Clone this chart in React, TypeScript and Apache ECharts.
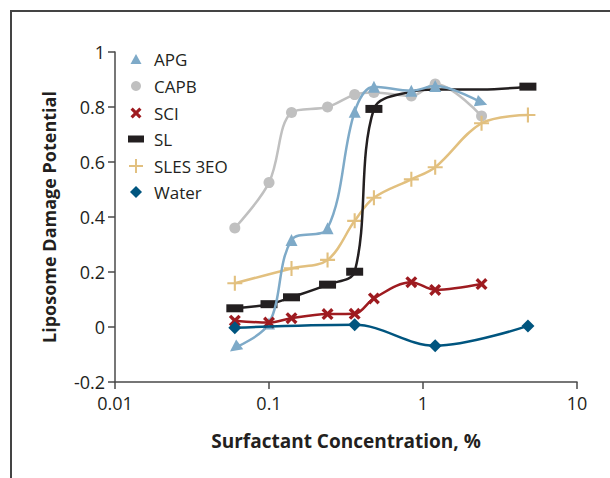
import React, { useEffect, useRef } from "react";
import * as echarts from "echarts";

const concAPG = [0.06, 0.1, 0.14, 0.24, 0.36, 0.48, 0.84, 1.2, 2.4];
const valAPG = [-0.076, 0.013, 0.316, 0.359, 0.783, 0.874, 0.859, 0.876, 0.816];

const concCAPB = [0.06, 0.1, 0.14, 0.24, 0.36, 0.48, 0.84, 1.2, 2.4];
const valCAPB = [0.36, 0.525, 0.78, 0.8, 0.845, 0.853, 0.84, 0.884, 0.767];

const concSCI = [0.06, 0.1, 0.14, 0.24, 0.36, 0.48, 0.84, 1.2, 2.4];
const valSCI = [0.023, 0.016, 0.032, 0.047, 0.048, 0.104, 0.163, 0.135, 0.156];

const concSL = [0.06, 0.1, 0.14, 0.24, 0.36, 0.48, 0.84, 1.2, 2.4, 4.8];
const valSL = [0.068, 0.083, 0.108, 0.154, 0.201, 0.793, 0.856, 0.864, 0.864, 0.874];
const markerSL = [true, true, true, true, true, true, false, false, false, true];

const concSLES = [0.06, 0.14, 0.24, 0.36, 0.48, 0.84, 1.2, 2.4, 4.8];
const valSLES = [0.159, 0.213, 0.244, 0.386, 0.47, 0.537, 0.581, 0.741, 0.771];

const concWater = [0.06, 0.36, 1.2, 4.8];
const valWater = [-0.003, 0.008, -0.068, 0.004];

const xTicks = [0.01, 0.1, 1, 10];
const yTicks = [-0.2, 0, 0.2, 0.4, 0.6, 0.8, 1];

const FONT = "'Open Sans', 'Noto Sans', sans-serif";
const TXT = "#231f20";

const CROSS = "path://M0,2 L2,0 L5,3 L8,0 L10,2 L7,5 L10,8 L8,10 L5,7 L2,10 L0,8 L3,5 Z";
const PLUS = "path://M4.3,0 H5.7 V4.3 H10 V5.7 H5.7 V10 H4.3 V5.7 H0 V4.3 H4.3 Z";

const zip = (xs: number[], ys: number[]) => xs.map((x, i) => [x, ys[i]]);

export default function App() {
  const ref = useRef<HTMLDivElement>(null);
  useEffect(() => {
    if (!ref.current) return;
    const chart = echarts.init(ref.current, null, { renderer: "svg" });

    const apgData = zip(concAPG, valAPG).map((v, i, arr) => {
      if (i === 0) return { value: v, symbolRotate: 126 };
      if (i === arr.length - 1) return { value: v, symbolRotate: -110 };
      return { value: v };
    });
    const slData = zip(concSL, valSL).map((v, i) =>
      markerSL[i] ? { value: v } : { value: v, symbol: "none" }
    );

    const mkSeries = (name: string, data: any[], color: string, symbol: string, symbolSize: any, z: number) => ({
      name,
      type: "line",
      data,
      smooth: 0.35,
      symbol,
      symbolSize,
      z,
      lineStyle: { color, width: 2.5 },
      itemStyle: { color },
      emphasis: { disabled: true },
    });

    const legendItems = [
      { name: "APG", icon: "triangle", w: 11, h: 10, cy: 59 },
      { name: "CAPB", icon: "circle", w: 10, h: 10, cy: 86 },
      { name: "SCI", icon: CROSS, w: 11, h: 11, cy: 113 },
      { name: "SL", icon: "rect", w: 16, h: 7, cy: 139 },
      { name: "SLES 3EO", icon: PLUS, w: 14, h: 14, cy: 166 },
      { name: "Water", icon: "diamond", w: 12, h: 12, cy: 192 },
    ];
    const iconCx = 136;
    const textX = 154;

    chart.setOption({
      animation: false,
      graphic: [
        {
          type: "rect",
          shape: { x: 11, y: 11, width: 640, height: 520 },
          style: { fill: "none", stroke: "#444", lineWidth: 2 },
          silent: true,
        },
      ],
      legend: legendItems.map((it) => ({
        orient: "vertical",
        left: iconCx - it.w / 2,
        top: it.cy - 11,
        padding: 0,
        itemWidth: it.w,
        itemHeight: it.h,
        selectedMode: false,
        data: [{ name: it.name, icon: it.icon }],
        textStyle: {
          fontFamily: FONT,
          fontSize: 17,
          color: TXT,
          lineHeight: 22,
          padding: [0, 0, 0, textX - (iconCx + it.w / 2) - 5],
        },
      })),
      grid: { left: 115, right: 33, top: 52, bottom: 96, containLabel: false },
      xAxis: {
        type: "log",
        logBase: 10,
        min: xTicks[0],
        max: xTicks[xTicks.length - 1],
        name: "Surfactant Concentration, %",
        nameLocation: "middle",
        nameGap: 49,
        nameTextStyle: { fontFamily: FONT, fontSize: 19, fontWeight: "bold", color: TXT },
        axisLine: { onZero: false, lineStyle: { color: "#4a4a4a", width: 1.5 } },
        axisTick: { show: true, inside: false, length: 7, lineStyle: { color: "#4a4a4a", width: 1.5 } },
        minorTick: { show: false },
        splitLine: { show: false },
        axisLabel: {
          fontFamily: FONT,
          fontSize: 18,
          color: TXT,
          margin: 12,
          formatter: (v: number) => {
            const f = xTicks.find((t) => Math.abs(t - v) / t < 1e-6);
            return f !== undefined ? String(f) : "";
          },
        },
      },
      yAxis: {
        type: "value",
        min: yTicks[0],
        max: yTicks[yTicks.length - 1],
        interval: 0.2,
        name: "Liposome Damage Potential",
        nameLocation: "middle",
        nameGap: 57,
        nameTextStyle: { fontFamily: FONT, fontSize: 18, fontWeight: "bold", color: TXT },
        axisLine: { show: true, lineStyle: { color: "#4a4a4a", width: 1.5 } },
        axisTick: { show: true, inside: false, length: 7, lineStyle: { color: "#4a4a4a", width: 1.5 } },
        splitLine: { show: false },
        axisLabel: {
          fontFamily: FONT,
          fontSize: 18,
          color: TXT,
          margin: 10,
          formatter: (v: number) => String(Math.round(v * 10) / 10),
        },
      },
      series: [
        mkSeries("CAPB", zip(concCAPB, valCAPB), "#c0c0c0", "circle", 11, 2),
        mkSeries("SLES 3EO", zip(concSLES, valSLES), "#e2c07f", PLUS, 15, 3),
        mkSeries("SL", slData, "#231f20", "rect", [17, 8], 4),
        mkSeries("APG", apgData, "#7eaac8", "triangle", 12, 5),
        mkSeries("SCI", zip(concSCI, valSCI), "#9e1b20", CROSS, 12, 6),
        mkSeries("Water", zip(concWater, valWater), "#00557f", "diamond", 13, 7),
      ],
    });
    return () => chart.dispose();
  }, []);
  return (
    <div
      ref={ref}
      style={{ position: "fixed", left: 0, top: 0, width: 610, height: 478, background: "#fff" }}
    />
  );
}
